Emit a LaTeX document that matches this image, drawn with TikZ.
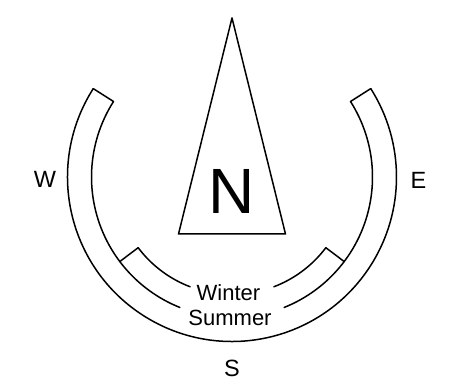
\documentclass[tikz,border=0pt]{standalone}
\usepackage{fontspec}
\setmainfont{Liberation Sans}
\begin{document}
\begin{tikzpicture}[x=1pt,y=1pt,
  ln/.style={line width=1.5pt,line join=round,line cap=round},
  lbl/.style={inner sep=0pt,anchor=base,font=\fontsize{23.5}{27}\selectfont},
  band/.style={inner sep=0pt,anchor=base,font=\fontsize{22}{26}\selectfont}]
\useasboundingbox[fill=white] (0,0) rectangle (449,382);
\coordinate (c) at (232,205);
% pointer triangle
\coordinate (apex) at (232,364);
\coordinate (bl) at (178.5,148);
\coordinate (br) at (285.5,148);
\draw[ln] (apex) -- (bl) -- (br) -- cycle;
\node[inner sep=0pt,anchor=base,font=\fontsize{64}{70}\selectfont] (n) at (232,168.7) {N};
% summer band (outer)
\draw[ln] ([shift={(c)}]147.5:164.5pt) arc[start angle=147.5,end angle=392.5,radius=164.5pt];
\draw[ln] ([shift={(c)}]147.5:140.5pt) arc[start angle=147.5,end angle=248.2,radius=140.5pt];
\draw[ln] ([shift={(c)}]291.8:140.5pt) arc[start angle=291.8,end angle=392.5,radius=140.5pt];
\draw[ln] ([shift={(c)}]147.5:140.5pt) -- ([shift={(c)}]147.5:164.5pt);
\draw[ln] ([shift={(c)}]32.5:140.5pt) -- ([shift={(c)}]32.5:164.5pt);
% winter band (inner)
\draw[ln] ([shift={(c)}]217:117.5pt) arc[start angle=217,end angle=249.1,radius=117.5pt];
\draw[ln] ([shift={(c)}]290.9:117.5pt) arc[start angle=290.9,end angle=323,radius=117.5pt];
\draw[ln] ([shift={(c)}]217:117.5pt) -- ([shift={(c)}]217:140.5pt);
\draw[ln] ([shift={(c)}]323:117.5pt) -- ([shift={(c)}]323:140.5pt);
% labels
\node[band] (winter) at (228.5,81.3) {Winter};
\node[band] (summer) at (230,56.3) {Summer};
\node[lbl] (w) at (45,194.5) {W};
\node[lbl] (e) at (418.5,193.5) {E};
\node[lbl] (s) at (232,5) {S};
\end{tikzpicture}
\end{document}
